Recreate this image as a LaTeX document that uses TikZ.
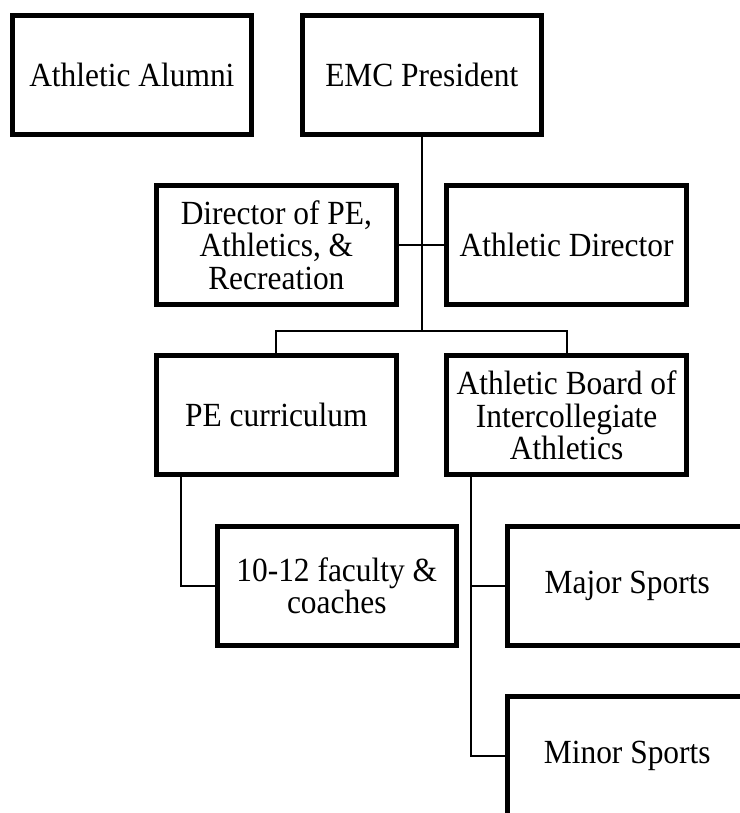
\documentclass[tikz,border=0pt]{standalone}
\usepackage{fontspec}
\setmainfont{Liberation Serif}[FakeStretch=0.93]
\begin{document}
\begin{tikzpicture}[x=1pt,y=-1pt,
  box/.style={draw, line width=5pt, rectangle, minimum width=239.5pt, minimum height=119pt,
    inner sep=0pt, align=center, font=\fontsize{33.8}{32.5}\selectfont},
  conn/.style={line width=2.2pt}]
\useasboundingbox (0,0) rectangle (739,813);
\node[box] (alumni) at (131.85,75) {Athletic Alumni};
\node[box] (emc) at (421.75,75) {EMC President};
\node[box] (dir) at (276.35,245.2) {Director of PE,\\Athletics, \&\\Recreation};
\node[box] (ad) at (566.6,245.2) {Athletic Director};
\node[box] (pe) at (276.35,415.4) {PE curriculum};
\node[box] (board) at (566.6,415.4) {Athletic Board of\\Intercollegiate\\Athletics};
\node[box] (fac) at (336.75,585.75) {10-12 faculty \&\\coaches};
\node[box] (major) at (627.25,585.75) {Major Sports};
\node[box] (minor) at (627.25,755.75) {Minor Sports};
\coordinate (brY) at (0,331);
\coordinate (px) at (181,0);
\coordinate (bx) at (471,0);
\draw[conn] (emc.south) -- (emc.south |- brY);
\draw[conn] (dir.east) -- (ad.west);
\draw[conn] (pe.north) -- (pe.north |- brY) -- (board.north |- brY) -- (board.north);
\draw[conn] (pe.south -| px) -- (px |- fac.west) -- (fac.west);
\draw[conn] (board.south -| bx) -- (bx |- minor.west) -- (minor.west);
\draw[conn] (bx |- major.west) -- (major.west);
\end{tikzpicture}
\end{document}
